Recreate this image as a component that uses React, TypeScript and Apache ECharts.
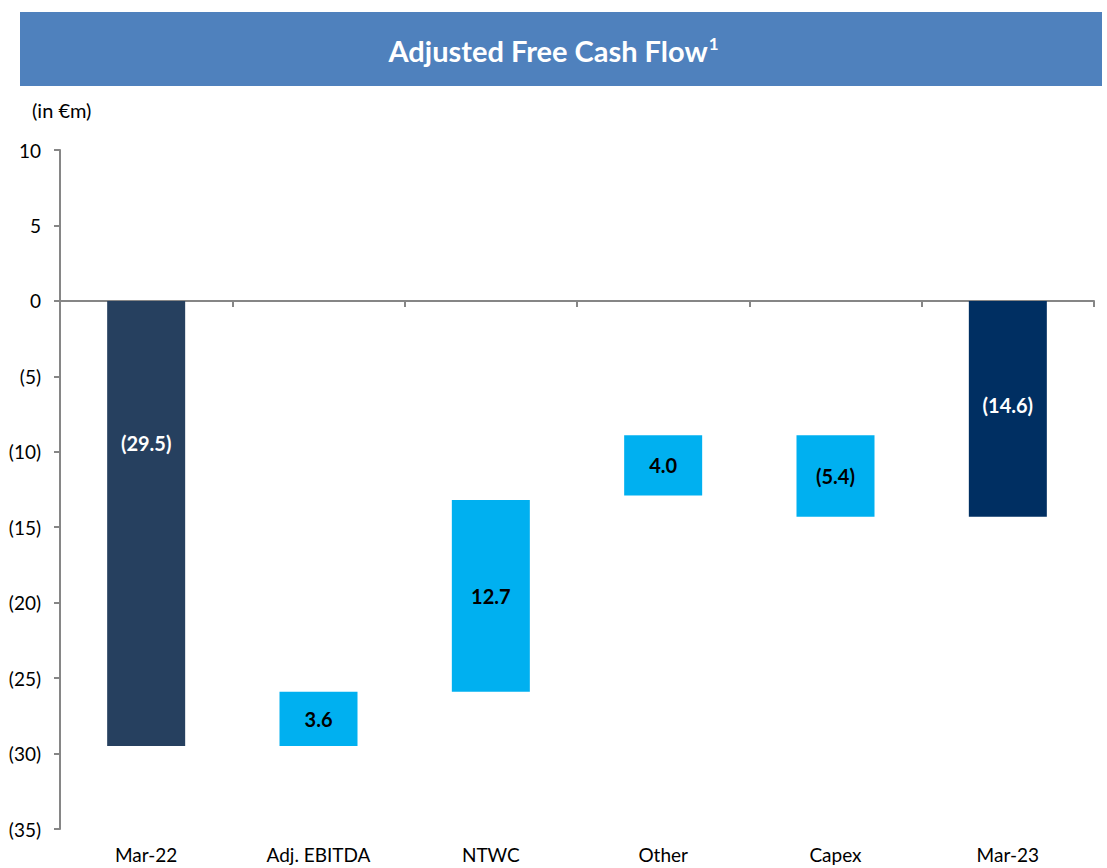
import React, { useEffect, useRef } from "react";
import * as echarts from "echarts";

const categories = ["Mar-22", "Adj. EBITDA", "NTWC", "Other", "Capex", "Mar-23"];
// upper end and lower end of each floating bar (in €m)
const barTop = [0, -25.9, -13.2, -8.9, -8.9, 0];
const barBottom = [-29.5, -29.5, -25.9, -12.9, -14.3, -14.3];
const barLabels = ["(29.5)", "3.6", "12.7", "4.0", "(5.4)", "(14.6)"];
const totalFlags = [true, false, false, false, false, true];
const yTicks = { min: -35, max: 10, interval: 5 };

const FONT = "Lato, 'Noto Sans', sans-serif";

export default function App() {
  const ref = useRef<HTMLDivElement>(null);
  useEffect(() => {
    if (!ref.current) return;
    const chart = echarts.init(ref.current, undefined, { renderer: "svg" });
    const deltaData = categories.map((_, i) => {
      const isTotal = totalFlags[i];
      const color = isTotal ? (i === 0 ? "#26405F" : "#002F62") : "#00B0F0";
      return {
        value: +(barBottom[i] - barTop[i]).toFixed(2),
        itemStyle: { color },
        label: {
          color: isTotal ? "#FFFFFF" : "#000000",
          offset: i === 0 ? [0, -80] : i === 5 ? [0, -4] : [0, 0],
        },
      };
    });
    chart.setOption({
      animation: false,
      textStyle: { fontFamily: FONT },
      graphic: [
        {
          type: "rect",
          shape: { x: 20, y: 12, width: 1082, height: 74 },
          style: { fill: "#4F81BD" },
          silent: true,
        },
        {
          type: "text",
          x: 32,
          y: 110,
          style: {
            text: "(in €m)",
            fill: "#000",
            font: `20px ${FONT}`,
            textVerticalAlign: "middle",
          },
        },
      ],
      title: {
        text: "{t|Adjusted Free Cash Flow}{s|1}",
        left: "center",
        top: 30,
        textStyle: {
          rich: {
            t: { fontSize: 29, fontWeight: "bold", color: "#fff", fontFamily: FONT, verticalAlign: "bottom" },
            s: { fontSize: 17, fontWeight: "bold", color: "#fff", fontFamily: FONT, padding: [0, 0, 13, 1], verticalAlign: "bottom" },
          },
        },
      },
      grid: { left: 60, right: 13, top: 150, bottom: 39, containLabel: false },
      xAxis: [
        {
          type: "category",
          data: categories,
          position: "bottom",
          axisLine: { show: false, onZero: false },
          axisTick: { show: false },
          axisLabel: { fontSize: 19, color: "#000", margin: 16, fontFamily: FONT },
        },
        {
          type: "category",
          data: categories,
          position: "bottom",
          axisLine: { show: true, onZero: true, lineStyle: { color: "#868686", width: 2 } },
          axisTick: { show: true, length: 6, lineStyle: { color: "#868686", width: 2 } },
          axisLabel: { show: false },
        },
      ],
      yAxis: {
        type: "value",
        min: yTicks.min,
        max: yTicks.max,
        interval: yTicks.interval,
        splitLine: { show: false },
        axisLine: { show: true, lineStyle: { color: "#868686", width: 2 } },
        axisTick: { show: true, length: 6, lineStyle: { color: "#868686", width: 2 } },
        axisLabel: {
          fontSize: 19,
          color: "#000",
          margin: 19,
          fontFamily: FONT,
          formatter: (v: number) => (v < 0 ? `(${-v})` : `${v}`),
        },
      },
      series: [
        {
          type: "bar",
          stack: "wf",
          xAxisIndex: 0,
          barWidth: 78,
          silent: true,
          itemStyle: { color: "transparent" },
          data: barTop,
        },
        {
          type: "bar",
          stack: "wf",
          xAxisIndex: 0,
          barWidth: 78,
          data: deltaData,
          label: {
            show: true,
            position: "inside",
            fontSize: 20,
            fontWeight: "bold",
            fontFamily: FONT,
            formatter: (p: any) => barLabels[p.dataIndex],
          },
        },
      ],
    });
    return () => chart.dispose();
  }, []);
  return <div ref={ref} style={{ width: 1107, height: 868, position: "absolute", left: 0, top: 0 }} />;
}
